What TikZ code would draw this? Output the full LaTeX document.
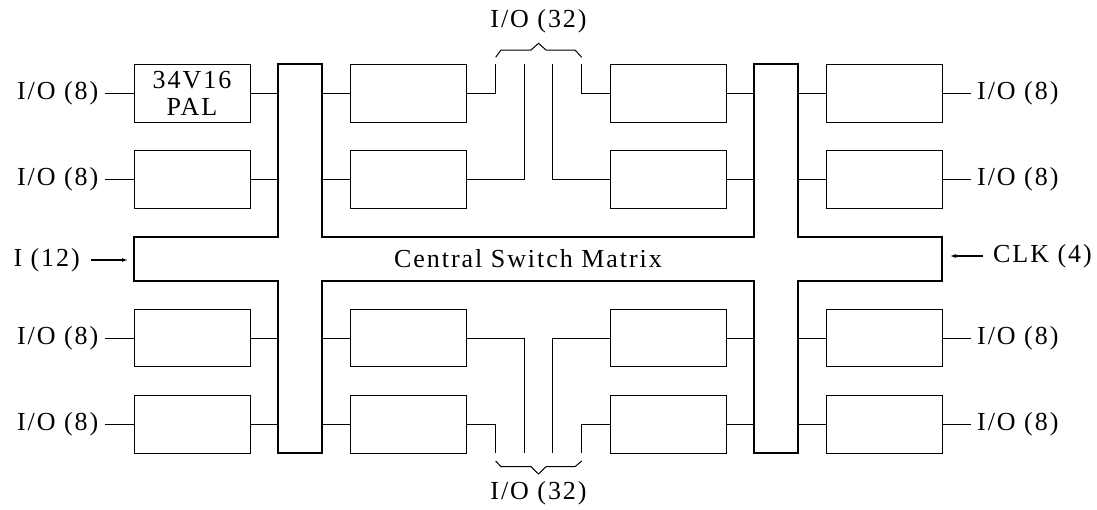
\documentclass[tikz,border=0pt]{standalone}
\usepackage{fontspec}
\setmainfont{Liberation Serif}[LetterSpace=7.5]
\usetikzlibrary{positioning, arrows.meta}

\begin{document}
\begin{tikzpicture}[x=1pt, y=-1pt,
    cell/.style={draw, line width=1pt, minimum width=116pt, minimum height=57.5pt, inner sep=0pt},
    wire/.style={line width=1pt},
    bus/.style={line width=2pt, line join=miter},
    lbl/.style={inner xsep=6pt, inner ysep=0pt, font=\fontsize{26}{27.3}\selectfont},
    feed/.style={line width=1.2pt, -{Latex[length=6pt, width=4pt]}}]
    \useasboundingbox (0,0) rectangle (1097,509);

    % Central switch matrix and the two vertical busses
    \draw[bus] (278.3,64.3) -- (322.3,64.3) -- (322.3,237.3) -- (754,237.3) -- (754,64.3)
        -- (798,64.3) -- (798,237.3) -- (942,237.3) -- (942,280.5) -- (798,280.5)
        -- (798,453.3) -- (754,453.3) -- (754,280.5) -- (322.3,280.5) -- (322.3,453.3)
        -- (278.3,453.3) -- (278.3,280.5) -- (134,280.5) -- (134,237.3) -- (278.3,237.3) -- cycle;
    \node[lbl] (csm) at (528,258.5) {Central Switch Matrix};
    \coordinate (lbA) at (278.3,0);
    \coordinate (lbB) at (322.3,0);
    \coordinate (rbA) at (754,0);
    \coordinate (rbB) at (798,0);

    % Logic blocks, four rows
    \node[cell, lbl, inner sep=0pt, align=center] (L1) at (192,93.3) {34V16\\PAL};
    \foreach \n/\y in {2/179.5, 3/338, 4/424.5} {
        \node[cell] (L\n) at (192,\y) {};
    }
    \foreach \n/\y in {1/93.3, 2/179.5, 3/338, 4/424.5} {
        \node[cell] (ML\n) at (408.8,\y) {};
        \node[cell] (MR\n) at (668,\y) {};
        \node[cell] (R\n) at (884.5,\y) {};
        \draw[wire] (L\n.east) -- (L\n.east -| lbA);
        \draw[wire] (ML\n.west) -- (ML\n.west -| lbB);
        \draw[wire] (MR\n.east) -- (MR\n.east -| rbA);
        \draw[wire] (R\n.west) -- (R\n.west -| rbB);
    }

    % Side I/O pins
    \foreach \n in {1,...,4} {
        \node[lbl, left=29pt of L\n] (ioL\n) {I/O (8)};
        \draw[wire] (ioL\n) -- (L\n);
        \node[lbl, right=28pt of R\n] (ioR\n) {I/O (8)};
        \draw[wire] (R\n) -- (ioR\n);
    }

    % Top I/O (32) group
    \coordinate (t1) at (495.7,64.3);
    \coordinate (t2) at (524.3,64.3);
    \coordinate (t3) at (552.7,64.3);
    \coordinate (t4) at (581.7,64.3);
    \draw[wire] (ML1.east) -| (t1);
    \draw[wire] (ML2.east) -| (t2);
    \draw[wire] (MR2.west) -| (t3);
    \draw[wire] (MR1.west) -| (t4);
    \draw[wire] (495.7,57.3) -- (501,50) -- (531,50) -- (538.5,43.3) -- (546,50) -- (575,50) -- (581.7,57.3);
    \node[lbl] (ioTop) at (538.5,21) {I/O (32)};

    % Bottom I/O (32) group
    \coordinate (b1) at (495.7,453.3);
    \coordinate (b2) at (524.3,453.3);
    \coordinate (b3) at (552.7,453.3);
    \coordinate (b4) at (581.7,453.3);
    \draw[wire] (ML4.east) -| (b1);
    \draw[wire] (ML3.east) -| (b2);
    \draw[wire] (MR3.west) -| (b3);
    \draw[wire] (MR4.west) -| (b4);
    \draw[wire] (495.7,461) -- (501,466.7) -- (531,466.7) -- (538.5,474) -- (546,466.7) -- (575,466.7) -- (581.7,461);
    \node[lbl] (ioBot) at (538.5,493) {I/O (32)};

    % Dedicated inputs and clocks
    \coordinate (csmW) at (134,260);
    \coordinate (csmE) at (942,256);
    \node[lbl, anchor=east, inner xsep=11pt] (inp) at (91,260) {I (12)};
    \draw[feed, shorten >=6pt] (inp) -- (csmW);
    \node[lbl, anchor=west, inner xsep=10pt] (clk) at (983,256) {CLK (4)};
    \draw[feed, shorten >=8pt] (clk) -- (csmE);
\end{tikzpicture}
\end{document}
